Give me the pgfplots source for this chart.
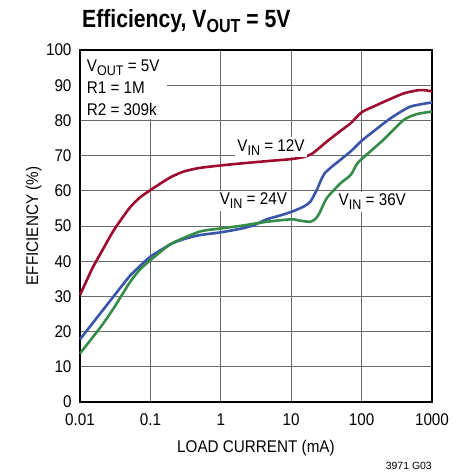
\documentclass[border=0pt]{standalone}
\usepackage{pgfplots}
\pgfplotsset{compat=1.18}
\usepackage{fontspec}
\setmainfont[FakeStretch=0.9]{Liberation Sans}
\newfontfamily\titlefont[FakeStretch=0.85]{Liberation Sans}
\newfontfamily\plainfont{Liberation Sans}
\definecolor{c12}{RGB}{158,10,46}
\definecolor{c24}{RGB}{58,85,168}
\definecolor{c36}{RGB}{52,140,72}
\newcommand{\sub}[1]{\raisebox{-4bp}{\fontsize{14}{14}\selectfont #1}}
\begin{document}
\begin{tikzpicture}
\begin{axis}[
  scale only axis, width=352bp, height=352bp,
  xmode=log, xmin=0.01, xmax=1000, ymin=0, ymax=100,
  xtick={0.01,0.1,1,10,100,1000}, xticklabels={0.01,0.1,1,10,100,1000},
  ytick={0,10,...,100},
  xminorticks=false,
  grid=major, major grid style={draw=black!58, line width=0.8bp},
  axis line style={line width=1.4bp},
  tick style={draw=none},
  /pgf/number format/assume math mode=true,
  tick label style={font=\fontsize{17}{17}\selectfont},
  xticklabel style={yshift=-8bp},
  yticklabel style={xshift=-5bp},
  label style={font=\fontsize{17}{17}\selectfont},
  xlabel={LOAD CURRENT (mA)}, ylabel={EFFICIENCY (\%)},
  xlabel style={at={(axis description cs:0.5,0)}, anchor=base, yshift=-50.7bp},
  ylabel style={at={(axis description cs:-0.1193,0.5)}, anchor=base},
  clip=false,
]
\addplot[c12, line width=2.6bp, smooth, tension=0.4] coordinates {
(0.01,30.4) (0.015,38) (0.02,42.5) (0.03,48.7) (0.05,55) (0.07,58) (0.1,60.2)
(0.15,62.5) (0.2,64) (0.3,65.5) (0.5,66.5) (1,67.2) (2,67.8) (5,68.5) (10,69)
(15,69.6) (20,70.6) (30,73.5) (40,75.5) (50,77) (70,79.2) (100,82.3) (150,84)
(250,86) (400,87.7) (650,88.6) (850,88.5) (1000,88.2)};
\addplot[c24, line width=2.6bp, smooth, tension=0.4] coordinates {
(0.01,17.8) (0.02,25.5) (0.03,30) (0.05,35.6) (0.07,38.5) (0.1,41.3) (0.15,43.5)
(0.2,45) (0.3,46.3) (0.5,47.4) (1,48.2) (2,49.3) (3,50.3) (4.5,51.9) (7,53)
(10,54) (15,55.5) (18.7,56.9) (23,60.2) (30,65) (50,68.8) (70,71.2) (100,74.2)
(150,77) (258,80.6) (490,83.9) (1000,85.1)};
\addplot[c36, line width=2.6bp, smooth, tension=0.4] coordinates {
(0.01,13.8) (0.02,21.5) (0.03,26.6) (0.05,33.7) (0.07,37.5) (0.1,40.3) (0.2,45)
(0.5,48.4) (1,49.3) (2,50.1) (4.5,51.2) (10,51.9) (13.5,51.5) (18.7,51.2)
(22,52) (25,53.5) (32,57.9) (50,62.1) (70,64.5) (85,67.5) (100,69) (202,74.4)
(395,80.1) (610,81.8) (1000,82.5)};
\node[anchor=base west, fill=white, inner sep=2bp, font=\fontsize{17}{17}\selectfont] at (axis cs:1.6,71.3) {V\sub{IN} = 12V};
\node[anchor=base west, fill=white, inner sep=2bp, font=\fontsize{17}{17}\selectfont] at (axis cs:0.9,56) {V\sub{IN} = 24V};
\node[anchor=base west, fill=white, inner sep=2bp, font=\fontsize{17}{17}\selectfont] at (axis cs:44,55.7) {V\sub{IN} = 36V};
\fill[white] ([shift={(0.8bp,-0.8bp)}]rel axis cs:0,1) rectangle (axis cs:0.1728,80.5);
\node[anchor=base west, inner sep=0pt, font=\fontsize{17}{17}\selectfont] at (axis cs:0.01245,93.8) {V\sub{OUT} = 5V};
\node[anchor=base west, inner sep=0pt, font=\fontsize{17}{17}\selectfont] at (axis cs:0.01245,87.7) {R1 = 1M};
\node[anchor=base west, inner sep=0pt, font=\fontsize{17}{17}\selectfont] at (axis cs:0.01245,81.5) {R2 = 309k};
\end{axis}
\pgfresetboundingbox
\path ([shift={(-80bp,-70bp)}]current axis.south west) rectangle ([shift={(36bp,50bp)}]current axis.north east);
\node[anchor=base west, inner sep=0pt, font=\titlefont\bfseries\fontsize{25}{25}\selectfont] at ([shift={(2bp,22bp)}]current axis.north west) {Efficiency, V\raisebox{-5bp}{\fontsize{19}{19}\selectfont OUT} = 5V};
\node[anchor=base east, inner sep=0pt, font=\plainfont\fontsize{10.5}{10.5}\selectfont] at ([shift={(0bp,-67bp)}]current axis.south east) {3971 G03};
\end{tikzpicture}
\end{document}
